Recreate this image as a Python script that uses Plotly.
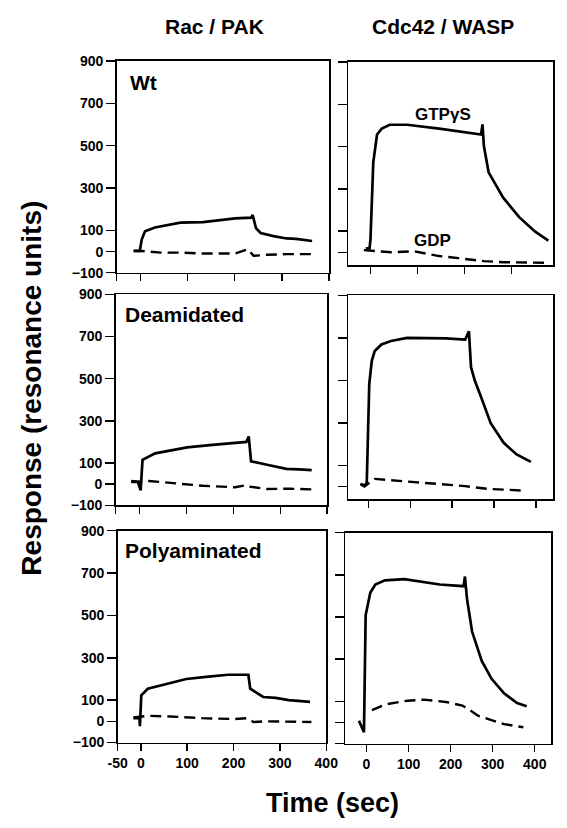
import plotly.graph_objects as go

W, H = 567, 828

# ---------------- DATA (time in sec, response in RU) ----------------
# Rac / PAK, Wt
wt_rac_t = [-14, -1, 3, 10, 31, 58, 85, 133, 167, 201, 235, 238, 245, 255, 282, 310, 330, 364]
wt_rac_v = [3, 3, 57, 96, 114, 127, 137, 139, 148, 157, 160, 173, 111, 88, 73, 62, 60, 50]
wt_rac_gdp_t = [-14, 3, 44, 85, 133, 201, 228, 240, 269, 310, 364]
wt_rac_gdp_v = [3, 3, -5, -5, -9, -9, 11, -20, -15, -12, -12]

# Cdc42 / WASP, Wt
wt_cdc_t = [-10, -2, 0, 6, 14, 24, 41, 78, 146, 200, 235, 238, 241, 251, 282, 316, 350, 378]
wt_cdc_v = [18, 18, 60, 425, 557, 585, 603, 603, 585, 567, 557, 605, 502, 378, 258, 166, 97, 55]
wt_cdc_gdp_t = [-14, 10, 44, 92, 146, 187, 241, 282, 371]
wt_cdc_gdp_v = [10, 5, 0, 5, -18, -28, -42, -47, -50]

# Rac / PAK, Deamidated
de_rac_t = [-17, -3, 3, 7, 34, 54, 102, 150, 204, 228, 233, 238, 272, 313, 340, 367]
de_rac_v = [11, 11, -30, 115, 146, 154, 174, 185, 197, 200, 226, 108, 92, 72, 70, 66]
de_rac_gdp_t = [-17, -3, 20, 68, 136, 204, 228, 234, 272, 320, 367]
de_rac_gdp_v = [15, 12, 15, 5, -8, -15, -5, -12, -23, -22, -25]

# Cdc42 / WASP, Deamidated
de_cdc_t = [-19, -8, -4, 2, 8, 15, 31, 54, 92, 131, 185, 231, 240, 245, 254, 269, 292, 323, 354, 388]
de_cdc_v = [12, 5, 20, 484, 592, 638, 669, 685, 700, 700, 697, 692, 731, 561, 499, 422, 298, 206, 151, 116]
de_cdc_gdp_t = [-19, -10, 15, 92, 169, 231, 285, 373]
de_cdc_gdp_v = [12, 0, 36, 25, 12, 2, -11, -19]

# Rac / PAK, Polyaminated
po_rac_t = [-16, -3, -2, 1, 15, 43, 63, 98, 146, 188, 232, 236, 264, 291, 319, 365]
po_rac_v = [15, 15, -23, 123, 154, 169, 180, 200, 211, 220, 220, 154, 115, 111, 100, 92]
po_rac_gdp_t = [-16, 15, 63, 132, 201, 229, 243, 270, 368]
po_rac_gdp_v = [18, 26, 23, 15, 11, 15, -3, 0, -3]

# Cdc42 / WASP, Polyaminated
po_cdc_t = [-18, -6, -2, 9, 21, 44, 90, 136, 174, 231, 234, 239, 251, 274, 297, 327, 358, 381]
po_cdc_v = [8, -46, 508, 615, 654, 674, 680, 665, 654, 646, 692, 585, 431, 292, 208, 138, 92, 77]
po_cdc_gdp_t = [13, 44, 97, 136, 189, 228, 243, 266, 327, 373]
po_cdc_gdp_v = [58, 85, 103, 108, 97, 80, 62, 31, -8, -23]

col_titles = ["Rac / PAK", "Cdc42 / WASP"]
row_labels = ["Wt", "Deamidated", "Polyaminated"]
y_ticks = [-100, 0, 100, 300, 500, 700, 900]
y_ticktext = ["\u2212100", "0", "100", "300", "500", "700", "900"]
x_ticks_left = [-50, 0, 100, 200, 300, 400]
x_ticktext_left = ["-50", "0", "100", "200", "300", "400"]
x_ticks_right = [0, 100, 200, 300, 400]
x_ticktext_right = ["0", "100", "200", "300", "400"]

# ---------------- LAYOUT (pixel boxes of each panel) ----------------
panels = [
    dict(box=(111, 332, 54, 270), xr=[-50, 400], yr=[-100, 900]),   # top-left
    dict(box=(352, 565, 55, 262), xr=[-47, 388], yr=[-60, 900]),    # top-right
    dict(box=(110, 330, 292, 507), xr=[-50, 400], yr=[-100, 900]),  # mid-left
    dict(box=(352, 565, 293, 501), xr=[-48, 441], yr=[-60, 900]),   # mid-right
    dict(box=(112, 329, 533, 749), xr=[-50, 400], yr=[-100, 900]),  # bot-left
    dict(box=(349, 563, 535, 750), xr=[-50, 439], yr=[-100, 900]),  # bot-right
]

series = [
    (wt_rac_t, wt_rac_v, wt_rac_gdp_t, wt_rac_gdp_v),
    (wt_cdc_t, wt_cdc_v, wt_cdc_gdp_t, wt_cdc_gdp_v),
    (de_rac_t, de_rac_v, de_rac_gdp_t, de_rac_gdp_v),
    (de_cdc_t, de_cdc_v, de_cdc_gdp_t, de_cdc_gdp_v),
    (po_rac_t, po_rac_v, po_rac_gdp_t, po_rac_gdp_v),
    (po_cdc_t, po_cdc_v, po_cdc_gdp_t, po_cdc_gdp_v),
]

FONT = "Liberation Sans, Arial, Helvetica, sans-serif"
fig = go.Figure()
layout = dict(
    width=W, height=H, margin=dict(l=0, r=0, t=0, b=0),
    paper_bgcolor="white", plot_bgcolor="white", showlegend=False,
    font=dict(family=FONT, color="black"), hovermode=False,
)

for i, (p, s) in enumerate(zip(panels, series)):
    n = i + 1
    xa = "x" if n == 1 else f"x{n}"
    ya = "y" if n == 1 else f"y{n}"
    t1, v1, t2, v2 = s
    fig.add_trace(go.Scatter(x=t2, y=v2, mode="lines", xaxis=xa, yaxis=ya,
                             line=dict(color="black", width=2.4, dash="11px,6px")))
    fig.add_trace(go.Scatter(x=t1, y=v1, mode="lines", xaxis=xa, yaxis=ya,
                             line=dict(color="black", width=2.7)))
    x0, x1, y0, y1 = p["box"]
    left = (i % 2 == 0)
    bottom = (i >= 4)
    if left:
        xt, xtt = x_ticks_left, x_ticktext_left
    else:
        xt, xtt = x_ticks_right, x_ticktext_right
    layout["xaxis" if n == 1 else f"xaxis{n}"] = dict(
        domain=[x0 / W, x1 / W], range=p["xr"], anchor=ya,
        showline=True, linecolor="black", linewidth=1.6, mirror=True,
        ticks="outside", ticklen=7, tickwidth=1.4, tickcolor="black",
        tickvals=xt, ticktext=xtt, showticklabels=bottom,
        tickfont=dict(family=FONT, size=14, weight="bold"),
        showgrid=False, zeroline=False, fixedrange=True,
    )
    layout["yaxis" if n == 1 else f"yaxis{n}"] = dict(
        domain=[1 - y1 / H, 1 - y0 / H], range=p["yr"], anchor=xa,
        showline=True, linecolor="black", linewidth=1.6, mirror=True,
        ticks="outside", ticklen=9, tickwidth=1.4, tickcolor="black",
        tickvals=y_ticks, ticktext=y_ticktext, showticklabels=left,
        tickfont=dict(family=FONT, size=14, weight="bold"),
        showgrid=False, zeroline=False, fixedrange=True,
    )

ann = []
def add_text(text, px, py, size, xanchor="center", angle=0):
    ann.append(dict(text=text, x=px / W, y=1 - py / H, xref="paper", yref="paper",
                    xanchor=xanchor, yanchor="middle", showarrow=False, textangle=angle,
                    font=dict(family=FONT, size=size, color="black", weight="bold")))

add_text(col_titles[0], 213, 19, 21)
add_text(col_titles[1], 450, 19, 21)
add_text("Time (sec)", 335, 811, 27)
add_text("Response (resonance units)", 22, 388, 28, angle=-90)
add_text(row_labels[0], 123, 76, 21, xanchor="left")
add_text(row_labels[1], 118, 313, 21, xanchor="left")
add_text(row_labels[2], 118, 553, 21, xanchor="left")
add_text("GTP\u03b3S", 450, 109, 17)
add_text("GDP", 440, 237, 17)

layout["annotations"] = ann
fig.update_layout(**layout)
fig.write_html(
    "out.html",
    config={"displayModeBar": False, "staticPlot": True},
    post_script="document.body.style.margin='0';document.body.style.padding='0';"
                "document.documentElement.style.overflow='hidden';",
)
